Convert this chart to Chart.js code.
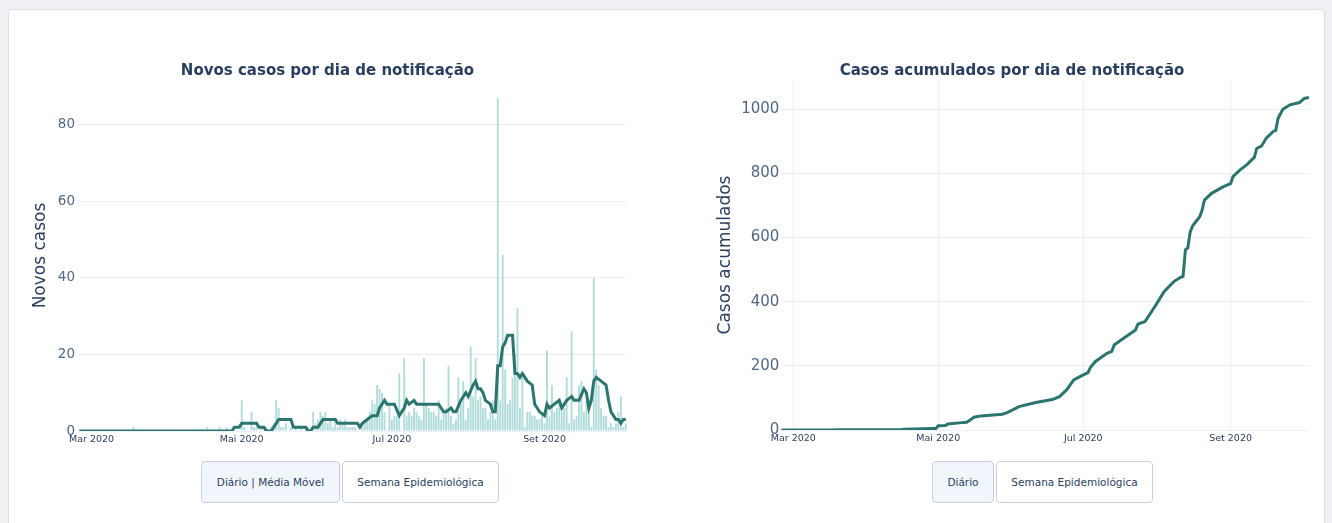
<!DOCTYPE html>
<html lang="pt-BR">
<head>
<meta charset="utf-8">
<title>Casos por dia de notificação</title>
<script src="https://cdn.jsdelivr.net/npm/chart.js@4.4.0/dist/chart.umd.min.js"></script>
<style>
  html, body { margin: 0; padding: 0; }
  body {
    width: 1332px; height: 523px; overflow: hidden; position: relative;
    background: #eff0f4; font-family: "DejaVu Sans", Verdana, sans-serif;
  }
  .card {
    position: absolute; left: 8px; top: 9px; width: 1315px; height: 530px;
    background: #fff; border: 1px solid #dcdfe6; border-radius: 4px;
  }
  canvas { position: absolute; }
  .btn {
    position: absolute; top: 461px; height: 42px; box-sizing: border-box;
    border: 1px solid #c8cfdc; border-radius: 4px; background: #fff; color: #2a3f5f;
    font: 10.5px "DejaVu Sans", Verdana, sans-serif;
    display: flex; align-items: center; justify-content: center;
  }
  .btn.active { background: #f1f6fd; }
</style>
</head>
<body>
<div class="card"></div>

<canvas id="chartNovos" width="599" height="411" style="left:28px; top:40px;"></canvas>
<canvas id="chartAcum" width="594" height="410" style="left:715px; top:40px;"></canvas>

<div class="btn active" style="left:201px; width:139px;">Diário | Média Móvel</div>
<div class="btn" style="left:342px; width:157px;">Semana Epidemiológica</div>
<div class="btn active" style="left:932px; width:62px;">Diário</div>
<div class="btn" style="left:996px; width:157px;">Semana Epidemiológica</div>

<script>
// ── Dados ────────────────────────────────────────────────────────
const startDate = '2020-02-25';
const numDays   = 223;

// novos casos por dia (25/02 → 04/10)
const novosCasos = [
    0, 0, 0, 0, 0, 0, 0, 0, 0, 0,
    0, 0, 0, 0, 0, 0, 0, 0, 0, 0,
    0, 0, 1, 0, 0, 0, 0, 0, 0, 0,
    0, 0, 0, 0, 0, 0, 0, 0, 0, 0,
    0, 0, 0, 0, 0, 0, 0, 0, 0, 0,
    0, 0, 1, 0, 0, 0, 0, 1, 0, 0,
    1, 0, 0, 1, 0, 0, 8, 1, 0, 0,
    5, 1, 1, 0, 1, 0, 1, 0, 1, 2,
    8, 6, 1, 1, 2, 0, 1, 0, 1, 0,
    1, 0, 1, 1, 0, 5, 2, 3, 5, 4,
    5, 2, 3, 1, 3, 1, 3, 2, 3, 1,
    1, 1, 1, 0, 0, 2, 3, 3, 5, 8,
    7, 12, 11, 10, 5, 0, 7, 3, 4, 4,
    15, 0, 19, 4, 5, 4, 6, 5, 4, 3,
    19, 7, 6, 5, 5, 4, 8, 3, 5, 6,
    17, 4, 2, 3, 14, 7, 13, 3, 6, 22,
    9, 19, 8, 9, 6, 6, 3, 5, 8, 3,
    87, 8, 46, 16, 7, 8, 14, 20, 32, 6,
    14, 1, 5, 5, 4, 4, 3, 3, 5, 2,
    21, 4, 12, 5, 6, 8, 5, 6, 14, 2,
    26, 3, 4, 12, 13, 5, 8, 8, 1, 40,
    16, 12, 6, 4, 4, 1, 2, 1, 2, 5,
    9, 1, 2
];

// média móvel (dia desde 25/02, valor)
const mediaDias = [0, 62, 63, 65, 66, 72, 73, 75, 76, 78, 79, 80, 81, 86, 87, 92, 93, 94, 95, 97,
    98, 99, 104, 105, 113, 114, 115, 117, 119, 121, 122, 124, 125, 128, 130, 132, 133, 134, 136, 137,
    146, 148, 149, 151, 152, 153, 155, 157, 158, 160, 161, 162, 163, 164, 165, 167, 168, 169, 170, 171,
    172, 173, 174, 176, 177, 178, 179, 180, 181, 182, 184, 185, 186, 187, 189, 190, 191, 193, 195, 196,
    198, 200, 201, 203, 205, 206, 207, 208, 209, 210, 212, 214, 215, 216, 217, 218, 219, 220, 221, 222];
const mediaMovel = [0, 0, 1, 1, 2, 2, 1, 1, 0, 0, 1, 2, 3, 3, 1, 1, 0, 0, 1, 1,
    2, 3, 3, 2, 2, 1, 2, 3, 4, 4, 6, 8, 7, 7, 4, 6, 8, 7, 8, 7,
    7, 5, 5, 6, 5, 5, 8, 10, 9, 12, 13, 11, 11, 10, 8, 7, 5, 5, 17, 17,
    22, 23, 25, 25, 15, 15, 14, 15, 14, 13, 12, 7, 6, 5, 4, 7, 6, 7, 8, 6,
    8, 9, 8, 8, 11, 10, 6, 8, 13, 14, 13, 12, 8, 5, 4, 3, 3, 2, 3, 3];

// casos acumulados (dia desde 25/02, valor)
const acumDias = [0, 22, 23, 50, 52, 56, 60, 63, 65, 66, 69, 70, 76, 78, 80, 81, 84, 93, 95, 100,
    107, 114, 117, 120, 123, 126, 129, 130, 132, 137, 139, 140, 144, 149, 150, 151, 153, 156, 158, 161,
    162, 165, 168, 169, 170, 171, 172, 173, 176, 177, 178, 181, 186, 189, 190, 193, 196, 197, 199, 200,
    202, 204, 207, 208, 209, 211, 214, 218, 220, 222];
const acumValores = [0, 0, 1, 1, 2, 3, 4, 5, 5, 13, 14, 19, 23, 24, 34, 40, 44, 49, 54, 73,
    86, 95, 104, 125, 156, 168, 179, 195, 213, 239, 245, 265, 286, 312, 330, 333, 338, 372, 395, 431,
    439, 462, 476, 479, 562, 568, 617, 636, 665, 685, 717, 738, 759, 768, 790, 811, 828, 836, 850, 878,
    885, 910, 931, 934, 972, 1000, 1014, 1021, 1034, 1037];

const tickDates  = ['2020-03-01', '2020-05-01', '2020-07-01', '2020-09-01'];
const tickLabels = ['Mar 2020', 'Mai 2020', 'Jul 2020', 'Set 2020'];
const yTicksNovos = [0, 20, 40, 60, 80];
const yTicksAcum  = [0, 200, 400, 600, 800, 1000];

// ── Estilo ───────────────────────────────────────────────────────
const FONT   = '"DejaVu Sans", Verdana, sans-serif';
const TITLE  = '#2a3f5f';
const TICK   = '#506784';
const GRID   = '#ebf0f8';
const LINE   = '#2b756f';
const BAR    = 'rgba(110, 190, 185, 0.55)';

// datas diárias (categorias)
const days = [];
for (let i = 0; i < numDays; i++) {
    const d = new Date(startDate + 'T00:00:00Z');
    d.setUTCDate(d.getUTCDate() + i);
    days.push(d.toISOString().slice(0, 10));
}

const xAxis = (offset, showGrid) => ({
    type: 'category',
    offset,
    grid: { display: showGrid, color: GRID, lineWidth: 1, drawTicks: false },
    border: { display: false },
    afterBuildTicks: s => { s.ticks = tickDates.map(t => ({ value: days.indexOf(t) })); },
    ticks: {
        autoSkip: false, maxRotation: 0, padding: 3,
        color: TITLE, font: { family: FONT, size: 9.5 },
        callback: v => tickLabels[tickDates.indexOf(days[v])]
    },
    afterFit: s => { s.height = 20; }
});

const yAxis = (max, ticks, title, size, width, titlePad, tickPad) => ({
    min: 0, max,
    afterBuildTicks: s => { s.ticks = ticks.map(v => ({ value: v })); },
    grid: { color: GRID, lineWidth: 1, drawTicks: false },
    border: { display: false },
    ticks: {
        padding: tickPad, color: TICK, font: { family: FONT, size },
        callback: v => String(v)
    },
    title: {
        display: true, text: title, color: TITLE,
        font: { family: FONT, size: 17 }, padding: { top: titlePad, bottom: 0 }
    },
    afterFit: s => { s.width = width; }
});

const baseOptions = (title) => ({
    responsive: false,
    devicePixelRatio: 1,
    animation: false,
    layout: { padding: 0 },
    plugins: {
        legend: { display: false },
        title: {
            display: true, text: title, color: TITLE,
            font: { family: FONT, size: 15, weight: 'bold' },
            padding: { top: 22, bottom: 0 }
        }
    }
});

// ── Novos casos ──────────────────────────────────────────────────
new Chart(document.getElementById('chartNovos'), {
    type: 'bar',
    data: {
        labels: days,
        datasets: [
            {
                type: 'line', label: 'Média móvel', order: 0,
                data: mediaDias.map((d, i) => ({ x: days[d], y: mediaMovel[i] })),
                borderColor: LINE, borderWidth: 3, pointRadius: 0, tension: 0, fill: false
            },
            {
                type: 'bar', label: 'Novos casos', order: 1,
                data: novosCasos, backgroundColor: BAR,
                barPercentage: 0.75, categoryPercentage: 1
            }
        ]
    },
    options: {
        ...baseOptions('Novos casos por dia de notificação'),
        scales: {
            x: xAxis(true, false),
            y: yAxis(91.6, yTicksNovos, 'Novos casos', 13.5, 50, 2.3, 3)
        }
    }
});

// ── Casos acumulados ─────────────────────────────────────────────
new Chart(document.getElementById('chartAcum'), {
    type: 'line',
    data: {
        labels: days,
        datasets: [{
            label: 'Casos acumulados',
            data: acumDias.map((d, i) => ({ x: days[d], y: acumValores[i] })),
            borderColor: LINE, borderWidth: 3, pointRadius: 0, tension: 0, fill: false
        }]
    },
    options: {
        ...baseOptions('Casos acumulados por dia de notificação'),
        scales: {
            x: xAxis(false, true),
            y: yAxis(1091.4, yTicksAcum, 'Casos acumulados', 15, 66.4, 0.3, 2)
        }
    }
});
</script>
</body>
</html>
